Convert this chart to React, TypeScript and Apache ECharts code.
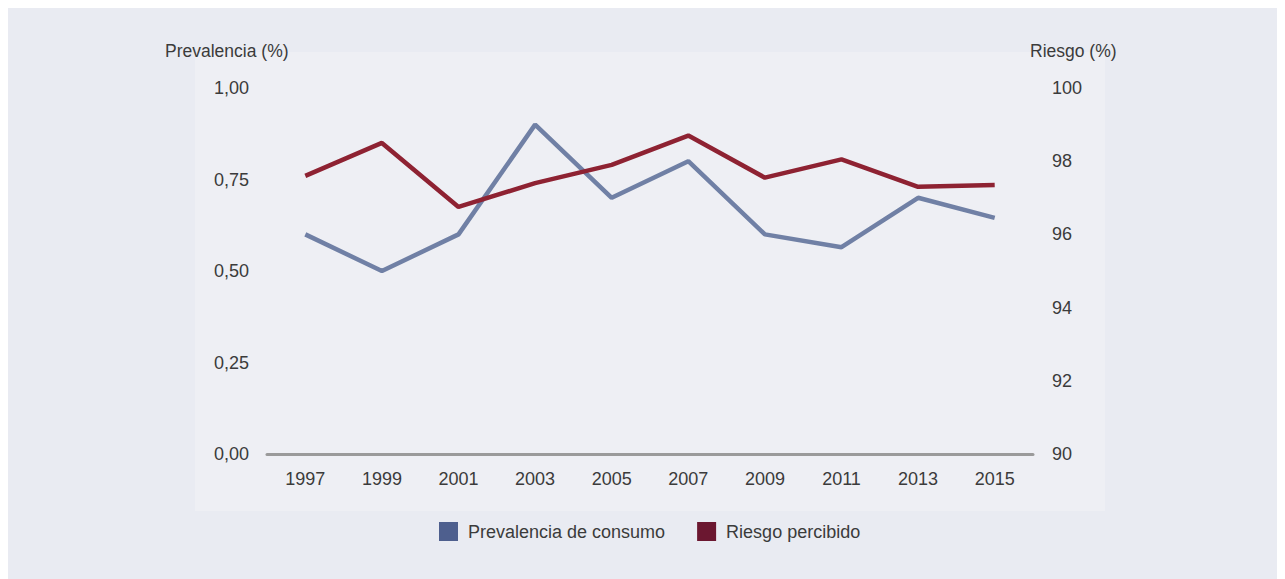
import React, { useEffect, useRef } from "react";
import * as echarts from "echarts";

const years = ["1997", "1999", "2001", "2003", "2005", "2007", "2009", "2011", "2013", "2015"];
const prevalencia = [0.6, 0.5, 0.6, 0.9, 0.7, 0.8, 0.6, 0.565, 0.7, 0.645];
const riesgo = [97.6, 98.5, 96.75, 97.4, 97.9, 98.7, 97.55, 98.05, 97.3, 97.35];
const leftTitle = "Prevalencia (%)";
const rightTitle = "Riesgo (%)";
const seriesNames = ["Prevalencia de consumo", "Riesgo percibido"];

const FONT = "'Liberation Sans', Arial, Helvetica, sans-serif";
const TEXT = "#3b3b3b";

export default function App() {
  const ref = useRef<HTMLDivElement>(null);
  useEffect(() => {
    if (!ref.current) return;
    const chart = echarts.init(ref.current, undefined, { renderer: "svg" });
    chart.setOption({
      animation: false,
      backgroundColor: "#e9ebf2",
      textStyle: { fontFamily: FONT },
      graphic: [
        {
          type: "rect",
          z: -10,
          shape: { x: 187, y: 44, width: 910, height: 459 },
          style: { fill: "#eeeff4" },
        },
        {
          type: "text",
          x: 157,
          y: 43,
          style: { text: leftTitle, fill: TEXT, font: `17.5px ${FONT}`, textVerticalAlign: "middle", verticalAlign: "middle" },
        },
        {
          type: "text",
          x: 1022,
          y: 43,
          style: { text: rightTitle, fill: TEXT, font: `17.5px ${FONT}`, textVerticalAlign: "middle", verticalAlign: "middle" },
        },
      ],
      grid: { left: 259, top: 80, width: 766, height: 366, containLabel: false },
      legend: {
        left: 426,
        top: 509,
        itemWidth: 19,
        itemHeight: 19,
        itemGap: 32,
        icon: "rect",
        textStyle: { fontSize: 18, color: TEXT, fontFamily: FONT, padding: [4, 0, 0, 5] },
        data: [
          { name: seriesNames[0], itemStyle: { color: "#4e5f8e" } },
          { name: seriesNames[1], itemStyle: { color: "#6b1730" } },
        ],
      },
      xAxis: {
        type: "category",
        data: years,
        boundaryGap: true,
        axisLine: { show: true, lineStyle: { color: "#9a9a9a", width: 3 } },
        axisTick: { show: false },
        axisLabel: { color: TEXT, fontSize: 18, margin: 16, fontFamily: FONT },
        splitLine: { show: false },
      },
      yAxis: [
        {
          type: "value",
          min: 0,
          max: 1,
          interval: 0.25,
          axisLine: { show: false },
          axisTick: { show: false },
          splitLine: { show: false },
          axisLabel: {
            color: TEXT,
            fontSize: 18,
            margin: 18,
            fontFamily: FONT,
            formatter: (v: number) => v.toFixed(2).replace(".", ","),
          },
        },
        {
          type: "value",
          min: 90,
          max: 100,
          interval: 2,
          axisLine: { show: false },
          axisTick: { show: false },
          splitLine: { show: false },
          axisLabel: { color: TEXT, fontSize: 18, margin: 19, fontFamily: FONT },
        },
      ],
      series: [
        {
          name: seriesNames[0],
          type: "line",
          yAxisIndex: 0,
          data: prevalencia,
          showSymbol: false,
          symbol: "none",
          itemStyle: { color: "#4e5f8e" },
          lineStyle: { color: "#7080a5", width: 4.5 },
        },
        {
          name: seriesNames[1],
          type: "line",
          yAxisIndex: 1,
          data: riesgo,
          showSymbol: false,
          symbol: "none",
          itemStyle: { color: "#6b1730" },
          lineStyle: { color: "#8e2232", width: 4.5 },
        },
      ],
    });
    return () => chart.dispose();
  }, []);
  return <div ref={ref} style={{ width: 1269, height: 571 }} />;
}
